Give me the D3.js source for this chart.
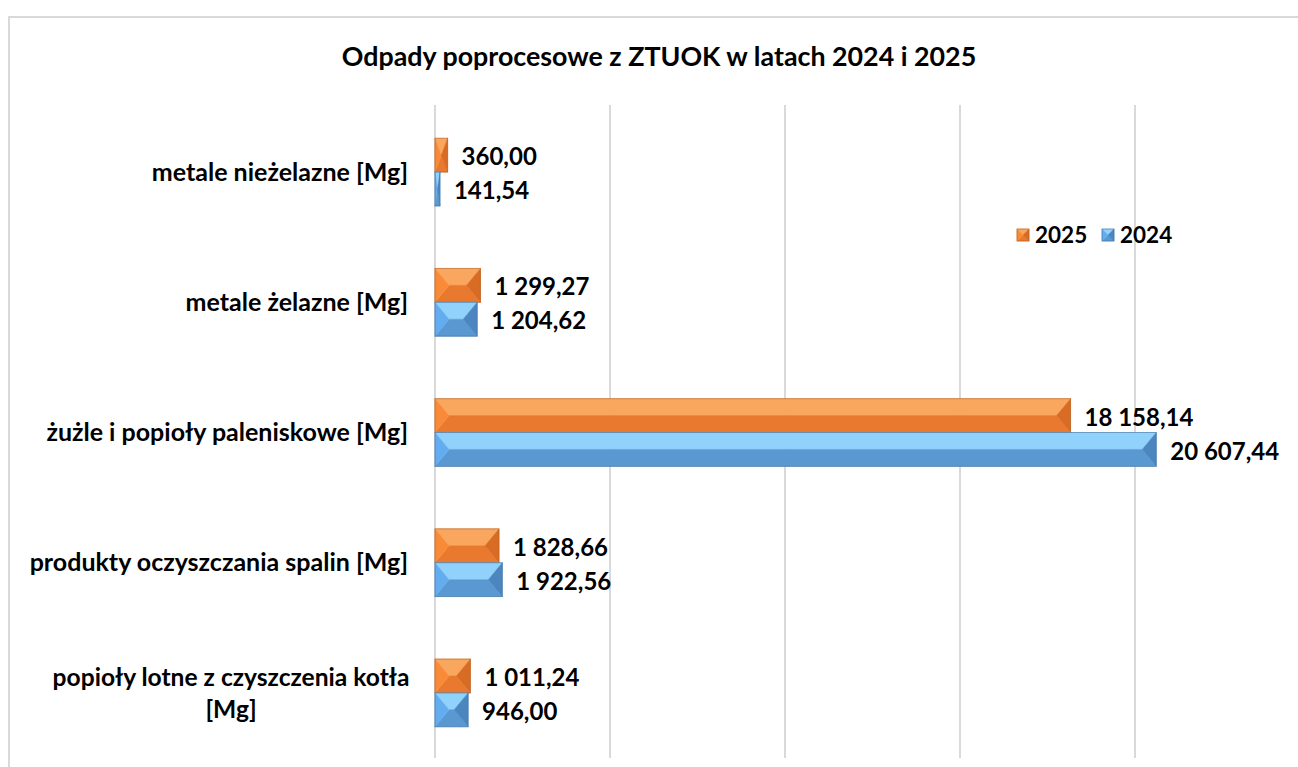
<!DOCTYPE html>
<html>
<head>
<meta charset="utf-8">
<script src="https://cdn.jsdelivr.net/npm/d3@7"></script>
<style>
    body { margin: 0; background: #fff; }
    svg text { font-family: Lato, "Open Sans", sans-serif; font-weight: 700; fill: #000; }
</style>
</head>
<body>
<svg id="chart" width="1298" height="767"></svg>
<script>
// dane
var categories = [
    "metale nieżelazne [Mg]",
    "metale żelazne [Mg]",
    "żużle i popioły paleniskowe [Mg]",
    "produkty oczyszczania spalin [Mg]",
    "popioły lotne z czyszczenia kotła [Mg]"
];
var series = ["2025", "2024"];
var values2025 = [360.00, 1299.27, 18158.14, 1828.66, 1011.24];
var values2024 = [141.54, 1204.62, 20607.44, 1922.56, 946.00];
var xTicks = [0, 5000, 10000, 15000, 20000, 25000];
var title = "Odpady poprocesowe z ZTUOK w latach 2024 i 2025";

var colors = {
    "2025": { top: "#f9a65e", bottom: "#e9792f", left: "#f98b38", right: "#d86c24", edge: "#b65c1c" },
    "2024": { top: "#90d2fb", bottom: "#5a98d2", left: "#62acef", right: "#4c86c0", edge: "#3f6f9c" }
};

var svg = d3.select("#chart");

var plPL = d3.formatLocale({ decimal: ",", thousands: " ", grouping: [3], currency: ["", " zł"] });
var fmt = plPL.format(",.2f");

// ramka wykresu
svg.append("rect")
    .attr("x", 9).attr("y", 17)
    .attr("width", 1320).attr("height", 780)
    .attr("fill", "none")
    .attr("stroke", "#d9d9d9")
    .attr("stroke-width", 2);

svg.append("text")
    .attr("x", 659).attr("y", 66)
    .attr("text-anchor", "middle")
    .attr("font-size", 26.8)
    .text(title);

var x = d3.scaleLinear().domain([0, 25000]).range([435, 1310]);
var y = d3.scaleBand().domain(categories).range([107, 758])
    .paddingInner(0.48).paddingOuter(0.24);
var ySub = d3.scaleBand().domain(series).range([0, y.bandwidth()]);

// linie siatki
svg.append("g").selectAll("line")
    .data(xTicks)
    .enter().append("line")
    .attr("x1", function (d) { return x(d); })
    .attr("x2", function (d) { return x(d); })
    .attr("y1", 105).attr("y2", 758)
    .attr("stroke", "#d9d9d9")
    .attr("stroke-width", 2);

/**
 * Słupek z fazowaniem
 */
function bevelBar(g, x0, y0, w, h, c) {
    var x1 = x0 + w, y1 = y0 + h, ym = y0 + h / 2;
    var dx = Math.min(14, w / 2);
    var faces = [
        [[x0, y0], [x1, y0], [x1 - dx, ym], [x0 + dx, ym], c.top],
        [[x0, y1], [x1, y1], [x1 - dx, ym], [x0 + dx, ym], c.bottom],
        [[x0, y0], [x0 + dx, ym], [x0, y1], c.left],
        [[x1, y0], [x1 - dx, ym], [x1, y1], c.right]
    ];
    faces.forEach(function (f) {
        var fill = f.pop();
        g.append("polygon")
            .attr("points", f.map(function (p) { return p.join(","); }).join(" "))
            .attr("fill", fill)
            .attr("stroke", fill)
            .attr("stroke-width", 0.5);
    });
    g.append("rect")
        .attr("x", x0).attr("y", y0)
        .attr("width", w).attr("height", h)
        .attr("fill", "none")
        .attr("stroke", c.edge)
        .attr("stroke-opacity", 0.6)
        .attr("stroke-width", 1);
}

var data = [];
categories.forEach(function (cat, i) {
    data.push({ cat: cat, s: "2025", v: values2025[i] });
    data.push({ cat: cat, s: "2024", v: values2024[i] });
});

var bars = svg.append("g");
data.forEach(function (d) {
    var y0 = y(d.cat) + ySub(d.s);
    bevelBar(bars, x(0), y0, x(d.v) - x(0), ySub.bandwidth(), colors[d.s]);
});

// etykiety wartości
svg.append("g").selectAll("text")
    .data(data)
    .enter().append("text")
    .attr("x", function (d) { return x(d.v) + 14; })
    .attr("y", function (d) { return y(d.cat) + ySub(d.s) + ySub.bandwidth() / 2; })
    .attr("dy", "0.42em")
    .attr("font-size", 24)
    .text(function (d) { return fmt(d.v); });

// etykiety kategorii
var catLabels = svg.append("g");
categories.forEach(function (cat) {
    var cy = y(cat) + y.bandwidth() / 2;
    if (cat.length > 35) {
        var idx = cat.lastIndexOf(" ");
        var t = catLabels.append("text")
            .attr("x", 231).attr("y", cy)
            .attr("text-anchor", "middle")
            .attr("font-size", 24.6);
        t.append("tspan").attr("x", 231).attr("dy", "-0.3em").text(cat.slice(0, idx));
        t.append("tspan").attr("x", 231).attr("dy", "1.3em").text(cat.slice(idx + 1));
    } else {
        catLabels.append("text")
            .attr("x", 408).attr("y", cy)
            .attr("dy", "0.35em")
            .attr("text-anchor", "end")
            .attr("font-size", 25)
            .text(cat);
    }
});

// legenda
var legend = svg.append("g");
var legendX = [1017, 1102];
series.forEach(function (s, i) {
    bevelBar(legend, legendX[i], 229, 12, 12, colors[s]);
    legend.append("text")
        .attr("x", legendX[i] + 18).attr("y", 235)
        .attr("dy", "0.37em")
        .attr("font-size", 22.5)
        .text(s);
});
</script>
</body>
</html>
